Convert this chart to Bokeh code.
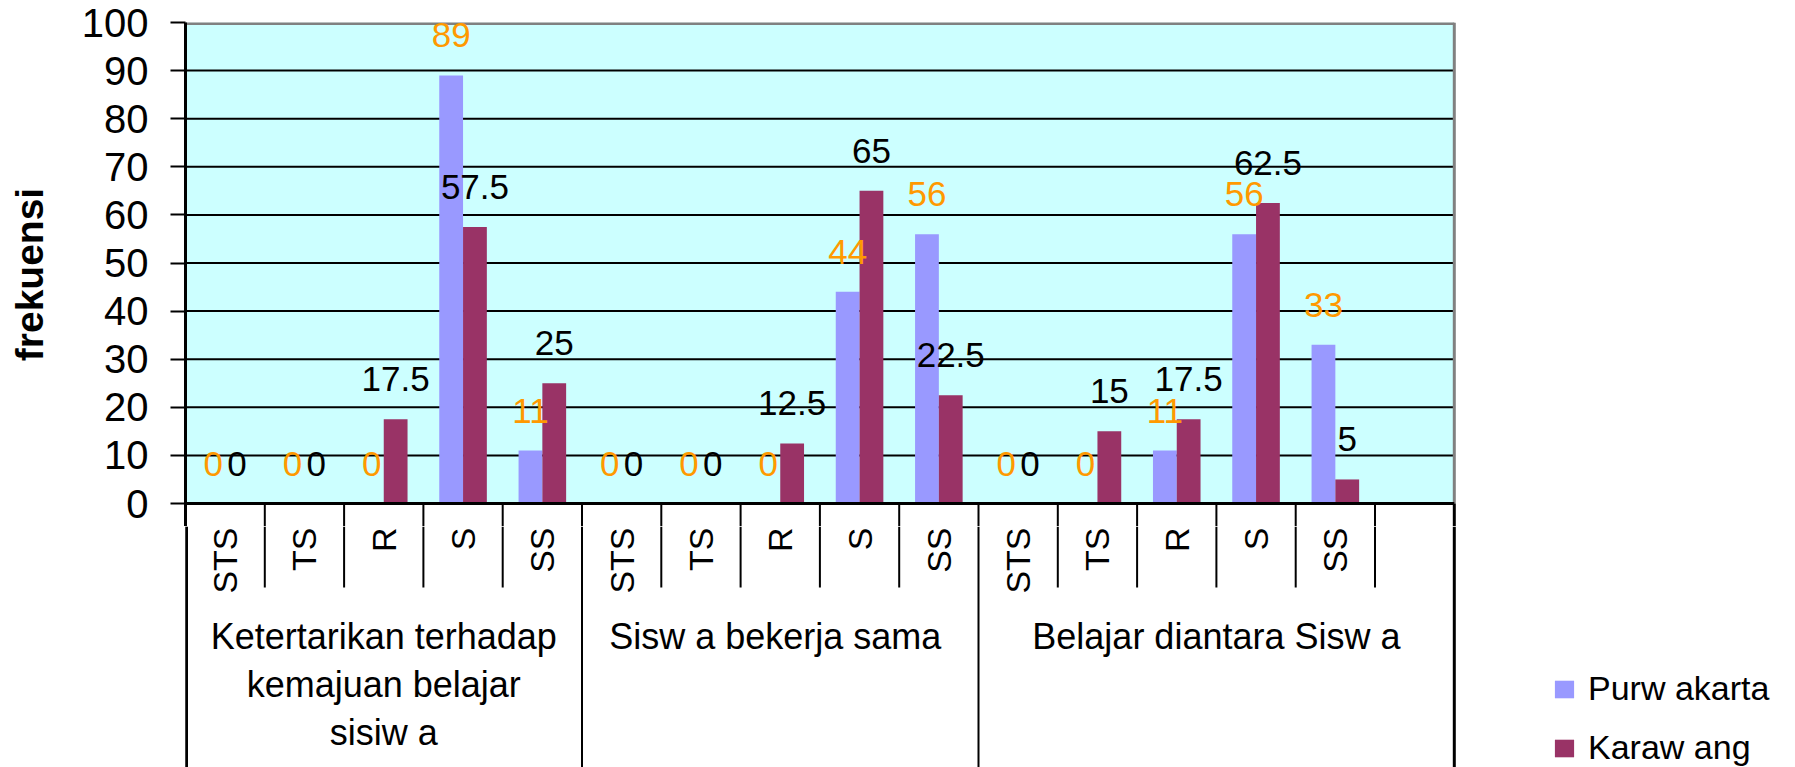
import math
from bokeh.plotting import figure
from bokeh.layouts import column
from bokeh.models import (FactorRange, Range1d, FixedTicker, ColumnDataSource,
                          Legend, LegendItem)
from bokeh.transform import dodge
from bokeh.core.properties import value
from bokeh.embed import file_html
from bokeh.resources import INLINE

# ---------------- data ----------------
groups = ["Ketertarikan terhadap kemajuan belajar sisiw a",
          "Sisw a  bekerja sama",
          "Belajar diantara Sisw a"]
group_text = ["Ketertarikan terhadap\nkemajuan belajar\nsisiw a",
              "Sisw a  bekerja sama",
              "Belajar diantara Sisw a"]
categories = ["STS", "TS", "R", "S", "SS"]
purwakarta = [0, 0, 0, 89, 11,
              0, 0, 0, 44, 56,
              0, 0, 11, 56, 33]
karawang = [0, 0, 17.5, 57.5, 25,
            0, 0, 12.5, 65, 22.5,
            0, 15, 17.5, 62.5, 5]
y_ticks = [0, 10, 20, 30, 40, 50, 60, 70, 80, 90, 100]
series_names = ["Purw akarta", "Karaw ang"]

# ---------------- styling / layout ----------------
FONT = "Liberation Sans"
C_P = "#9999FF"
C_K = "#993366"
C_BG = "#CCFFFF"
C_LBL_P = "#FF9900"
C_BORDER = "#808080"

W, H = 1795, 767
LEFT, TOP, PLOT_H = 185, 22, 481
N_PAD = 4                      # empty slots on the right that hold the legend
EXT = 23                       # px of upper figure below the zero line
RIGHT = 24
px_per_unit = PLOT_H / 100.0
y_low = -EXT / px_per_unit
UP_H = TOP + PLOT_H + EXT
LOW_H = H - UP_H

bar_factors = [(g, c) for g in groups for c in categories]
chart_factors = bar_factors + [(groups[-1], "")]
pad_factors = [("legend-space", str(i)) for i in range(N_PAD)]
factors = chart_factors + pad_factors


def fmt(v):
    return str(int(v)) if float(v).is_integer() else str(v)


src = ColumnDataSource(dict(
    x=bar_factors,
    purw=purwakarta,
    kara=karawang,
    purw_lbl=[fmt(v) for v in purwakarta],
    kara_lbl=[fmt(v) for v in karawang],
    cat=[c for g in groups for c in categories],
))
first_f, last_f = chart_factors[0], chart_factors[-1]
edge_src = ColumnDataSource(dict(a=[first_f], b=[last_f]))
grid_src = ColumnDataSource(dict(a=[first_f] * 9, b=[last_f] * 9, y=y_ticks[1:-1]))
short_x = [f for i, f in enumerate(chart_factors) if i % 5 != 0 or i == 15]
long_x = [f for i, f in enumerate(chart_factors) if i % 5 == 0 and i < 15]
short_src = ColumnDataSource(dict(x=short_x))
long_src = ColumnDataSource(dict(x=long_x))

x_range = FactorRange(*factors, factor_padding=0, group_padding=0,
                      subgroup_padding=0, range_padding=0)

# ================= upper chart =================
p = figure(width=W, height=UP_H, x_range=x_range,
           y_range=Range1d(y_low, 100),
           output_backend="svg", toolbar_location=None, x_axis_location=None,
           min_border_left=LEFT, min_border_right=RIGHT,
           min_border_top=TOP, min_border_bottom=0)
p.outline_line_color = None
p.background_fill_color = "white"
p.border_fill_color = "white"
p.xgrid.visible = False
p.ygrid.visible = False

ax = p.yaxis[0]
ax.ticker = FixedTicker(ticks=y_ticks)
ax.axis_line_color = "black"
ax.axis_line_width = 3
ax.major_tick_line_color = "black"
ax.major_tick_line_width = 2
ax.major_tick_out = 15
ax.major_tick_in = 0
ax.minor_tick_line_color = None
ax.major_label_text_font = FONT
ax.major_label_text_font_size = "40px"
ax.major_label_text_color = "black"
ax.major_label_standoff = 22
ax.axis_label = "frekuensi"
ax.axis_label_text_font = FONT
ax.axis_label_text_font_size = "39px"
ax.axis_label_text_font_style = "bold"
ax.axis_label_text_color = "black"
ax.axis_label_standoff = 28

# plot area background and grid lines
p.quad(left=dodge("a", -0.5, range=x_range), right=dodge("b", 0.5, range=x_range),
       bottom=0, top=100, source=edge_src, fill_color=C_BG, line_color=None)
p.segment(x0=dodge("a", -0.5, range=x_range), x1=dodge("b", 0.5, range=x_range),
          y0="y", y1="y", source=grid_src, line_color="black", line_width=2)
# grey top / right border
p.segment(x0=dodge("a", -0.5, range=x_range), x1=dodge("b", 0.5, range=x_range),
          y0=100, y1=100, source=edge_src, line_color=C_BORDER, line_width=5)
p.segment(x0=dodge("b", 0.5, range=x_range), x1=dodge("b", 0.5, range=x_range),
          y0=0, y1=100, source=edge_src, line_color=C_BORDER, line_width=3)

# bars
r_p = p.vbar(x=dodge("x", -0.15, range=x_range), top="purw", width=0.3,
             source=src, fill_color=C_P, line_color=None)
r_k = p.vbar(x=dodge("x", 0.15, range=x_range), top="kara", width=0.3,
             source=src, fill_color=C_K, line_color=None)

# zero line and category separators (upper part)
p.segment(x0=dodge("a", -0.5, range=x_range), x1=dodge("b", 0.5, range=x_range),
          y0=0, y1=0, source=edge_src, line_color="black", line_width=3)
p.segment(x0=dodge("x", -0.5, range=x_range), x1=dodge("x", -0.5, range=x_range),
          y0=0, y1=y_low, source=short_src, line_color="black", line_width=2)
p.segment(x0=dodge("x", -0.5, range=x_range), x1=dodge("x", -0.5, range=x_range),
          y0=0, y1=y_low, source=long_src, line_color="black", line_width=2)
p.segment(x0=dodge("b", 0.5, range=x_range), x1=dodge("b", 0.5, range=x_range),
          y0=0, y1=y_low, source=edge_src, line_color="black", line_width=3)

# data labels
p.text(x=dodge("x", -0.15, range=x_range), y="purw", text="purw_lbl", source=src,
       y_offset=-40, text_align="center", text_baseline="middle",
       text_color=C_LBL_P, text_font=value(FONT), text_font_size="35px")
p.text(x=dodge("x", 0.15, range=x_range), y="kara", text="kara_lbl", source=src,
       y_offset=-40, text_align="center", text_baseline="middle",
       text_color="black", text_font=value(FONT), text_font_size="35px")

# ================= lower category band =================
q = figure(width=W, height=LOW_H, x_range=x_range, y_range=Range1d(-LOW_H, 0),
           output_backend="svg", toolbar_location=None,
           x_axis_location=None, y_axis_location=None,
           min_border_left=LEFT, min_border_right=RIGHT,
           min_border_top=0, min_border_bottom=0)
q.outline_line_color = None
q.background_fill_color = "white"
q.border_fill_color = "white"
q.grid.visible = False

q.segment(x0=dodge("x", -0.5, range=x_range), x1=dodge("x", -0.5, range=x_range),
          y0=0, y1=-(84 - EXT), source=short_src, line_color="black", line_width=2)
q.segment(x0=dodge("x", -0.5, range=x_range), x1=dodge("x", -0.5, range=x_range),
          y0=0, y1=-LOW_H, source=long_src, line_color="black", line_width=2)
q.segment(x0=dodge("a", -0.5, range=x_range), x1=dodge("a", -0.5, range=x_range),
          y0=0, y1=-LOW_H, source=edge_src, line_color="black", line_width=5)
q.segment(x0=dodge("b", 0.5, range=x_range), x1=dodge("b", 0.5, range=x_range),
          y0=0, y1=-LOW_H, source=edge_src, line_color="black", line_width=3)

# category labels (rotated)
q.text(x="x", y=0, text="cat", source=src, angle=math.pi / 2,
       y_offset=1, text_align="right", text_baseline="middle",
       text_color="black", text_font=value(FONT), text_font_size="34px")

# group labels
q.text(x=groups, y=[0] * len(groups), text=group_text,
       y_offset=112 - EXT, text_align="center", text_baseline="top",
       text_line_height=1.18,
       text_color="black", text_font=value(FONT), text_font_size="36px")

# legend (swatches styled like the bars)
lp = q.vbar(x=[first_f], top=[0], width=0.3, fill_color=C_P, line_color=None)
lk = q.vbar(x=[first_f], top=[0], width=0.3, fill_color=C_K, line_color=None)
legend = Legend(items=[LegendItem(label=series_names[0], renderers=[lp]),
                       LegendItem(label=series_names[1], renderers=[lk])],
                location=(1552 - LEFT, 0), orientation="vertical",
                label_text_font=FONT, label_text_font_size="34px",
                label_text_color="black",
                glyph_width=24, glyph_height=22, label_standoff=12,
                spacing=20, padding=0, margin=0,
                border_line_color=None, background_fill_alpha=0)
q.add_layout(legend)

layout = column(p, q, spacing=0)
open("out.html", "w").write(file_html(layout, INLINE))
